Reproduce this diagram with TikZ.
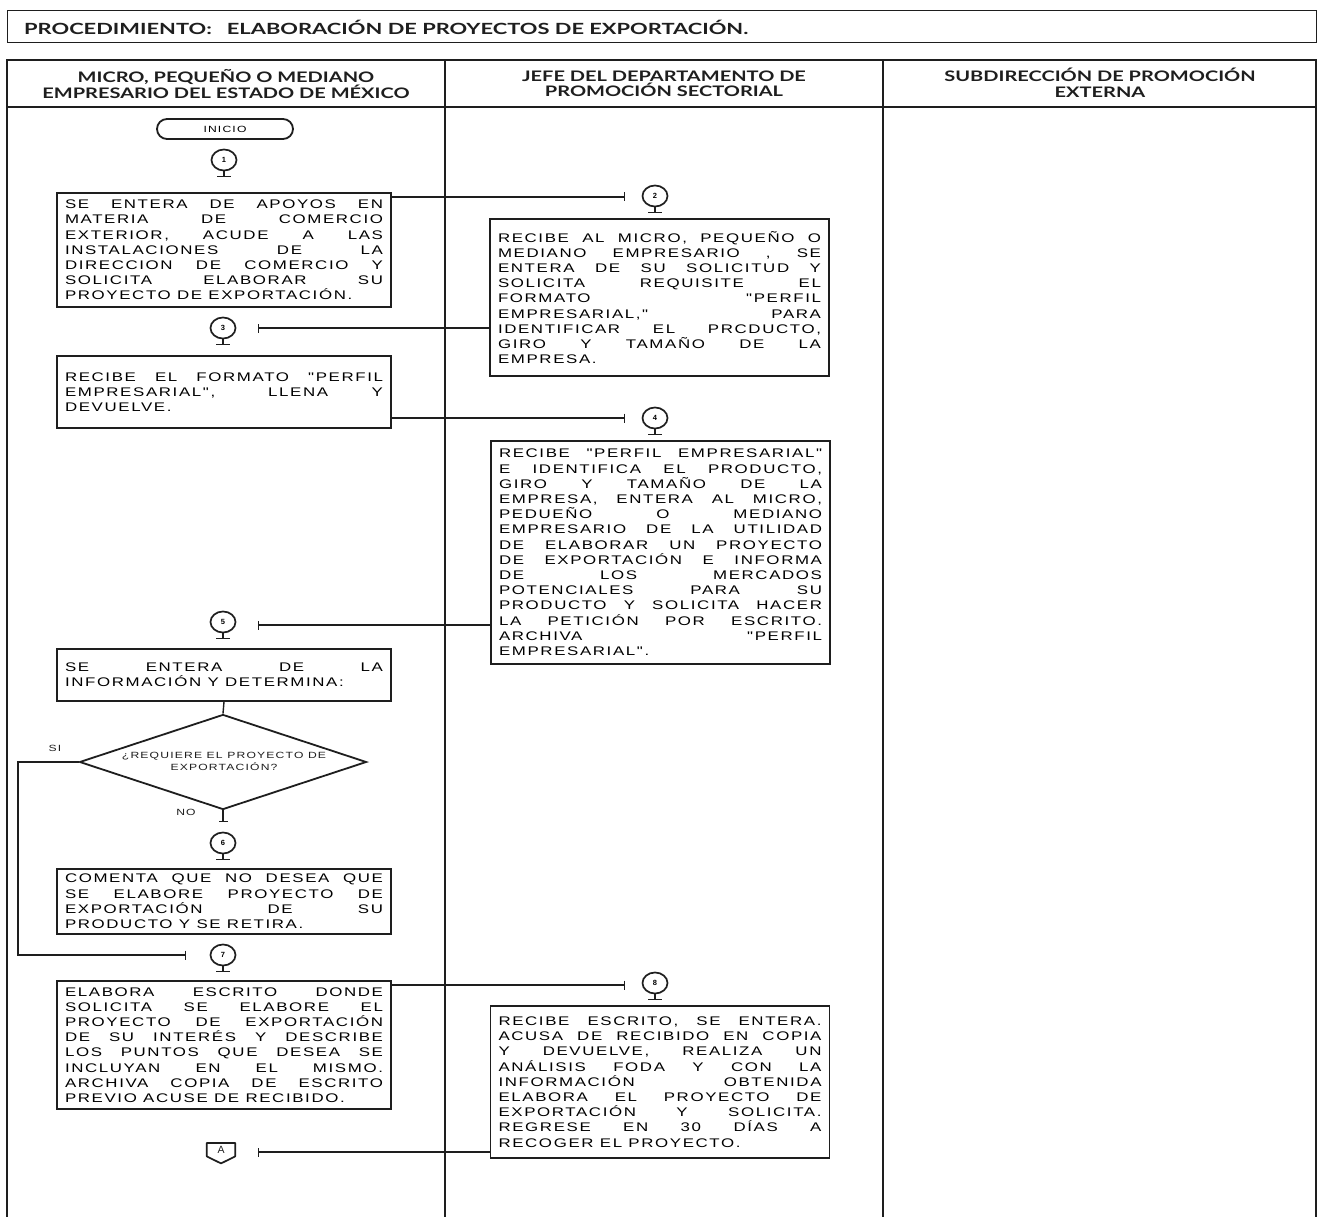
\documentclass[tikz,border=0pt]{standalone}
\usepackage{fontspec}
\setmainfont{Liberation Sans}
\newfontfamily\boxfont[FakeStretch=1.35,LetterSpace=13]{Liberation Sans}
\newfontfamily\headfont[FakeStretch=1.38]{Lato}
\newfontfamily\titlefont[FakeStretch=1.42]{Lato}
\usetikzlibrary{arrows.meta,shapes.geometric,shapes.misc}
\definecolor{ink}{HTML}{1E1E1E}
\setlength{\parindent}{0pt}
\hbadness=10000 \vbadness=10000 \hfuzz=20pt
\tikzset{
  lane/.style={draw=ink, line width=1.3pt},
  pbox/.style={draw=ink, line width=1.8pt, text width=#1, align=justify, inner xsep=8pt, inner ysep=2pt,
    font=\boxfont\fontsize{12.5}{15.2}\selectfont, anchor=north},
  conn/.style={draw=ink, ellipse, line width=1.7pt, minimum width=25pt, minimum height=21pt, inner sep=0pt,
    font=\fontsize{7.5}{8}\bfseries\selectfont},
  standl/.style={draw=ink, line width=1.6pt},
  flow/.style={draw=ink, line width=1.4pt, -{Bar[width=9pt,line width=1.4pt]}},
  plain/.style={draw=ink, line width=1.4pt},
  hdr/.style={align=center, font=\headfont\bfseries\fontsize{14.5}{15.5}\selectfont, text=ink},
  lbl/.style={font=\boxfont\fontsize{9}{10}\selectfont, text=ink},
}
\newcommand\cstand[1]{\draw[standl] (#1.south) -- ++(0,5) coordinate (#1s);
  \draw[standl] ([xshift=-7pt]#1s) -- ([xshift=7pt]#1s);}
\begin{document}
\begin{tikzpicture}[x=1pt,y=-1pt]
\useasboundingbox[fill=white] (0,0) rectangle (1318,1217);
% title
\node[draw=ink, line width=1.3pt, minimum width=1309pt, minimum height=32pt, anchor=north west, inner sep=0pt] (tbox) at (7,10) {};
\node[anchor=west, font=\titlefont\bfseries\fontsize{15.4}{16}\selectfont, text=ink, inner sep=0pt] (title) at (24,27)
  {PROCEDIMIENTO:\hspace{15pt}ELABORACIÓN DE PROYECTOS DE EXPORTACIÓN.};
% lanes
\draw[lane] (7,1230) -- (7,60) -- (1316,60) -- (1316,1230);
\draw[lane] (7,107) -- (1316,107);
\draw[lane] (445,60) -- (445,1230);
\draw[lane] (883,60) -- (883,1230);
\node[hdr] (h1) at (226,84) {MICRO, PEQUEÑO O MEDIANO\\EMPRESARIO DEL ESTADO DE MÉXICO};
\node[hdr] (h2) at (664,84) {JEFE DEL DEPARTAMENTO DE\\PROMOCIÓN SECTORIAL};
\node[hdr] (h3) at (1100,83) {SUBDIRECCIÓN DE PROMOCIÓN\\EXTERNA};
% start
\node[draw=ink, rounded rectangle, line width=1.8pt, minimum width=136pt, minimum height=20pt, inner sep=0pt,
  font=\boxfont\fontsize{9}{9}\selectfont] (ini) at (225,129) {INICIO};
% connectors
\node[conn] (c1) at (224,160) {1}; \cstand{c1}
\node[conn] (c2) at (655,196) {2}; \cstand{c2}
\node[conn] (c3) at (223,328) {3}; \cstand{c3}
\node[conn] (c4) at (655,418) {4}; \cstand{c4}
\node[conn] (c5) at (223,622) {5}; \cstand{c5}
\node[conn] (c6) at (223,843) {6}; \cstand{c6}
\node[conn] (c7) at (223,955) {7}; \cstand{c7}
\node[conn] (c8) at (655,983) {8}; \cstand{c8}
% boxes
\node[pbox=318pt, minimum height=114pt] (b1) at (224,192) {SE ENTERA DE APOYOS EN\linebreak
MATERIA DE COMERCIO\linebreak
EXTERIOR, ACUDE A LAS\linebreak
INSTALACIONES DE LA\linebreak
DIRECCION DE COMERCIO Y\linebreak
SOLICITA ELABORAR SU\linebreak
PROYECTO DE EXPORTACIÓN.};
\node[pbox=323pt, minimum height=157pt] (b2) at (659.5,218) {RECIBE AL MICRO, PEQUEÑO O\linebreak
MEDIANO EMPRESARIO , SE\linebreak
ENTERA DE SU SOLICITUD Y\linebreak
SOLICITA REQUISITE EL\linebreak
FORMATO "PERFIL\linebreak
EMPRESARIAL," PARA\linebreak
IDENTIFICAR EL PRCDUCTO,\linebreak
GIRO Y TAMAÑO DE LA\linebreak
EMPRESA.};
\node[pbox=318pt, minimum height=72pt] (b3) at (224,355) {RECIBE EL FORMATO "PERFIL\linebreak
EMPRESARIAL", LLENA Y\linebreak
DEVUELVE.};
\node[pbox=323pt, minimum height=223pt] (b4) at (660.5,440) {RECIBE "PERFIL EMPRESARIAL"\linebreak
E IDENTIFICA EL PRODUCTO,\linebreak
GIRO Y TAMAÑO DE LA\linebreak
EMPRESA, ENTERA AL MICRO,\linebreak
PEDUEÑO O MEDIANO\linebreak
EMPRESARIO DE LA UTILIDAD\linebreak
DE ELABORAR UN PROYECTO\linebreak
DE EXPORTACIÓN E INFORMA\linebreak
DE LOS MERCADOS\linebreak
POTENCIALES PARA SU\linebreak
PRODUCTO Y SOLICITA HACER\linebreak
LA PETICIÓN POR ESCRITO.\linebreak
ARCHIVA "PERFIL\linebreak
EMPRESARIAL".};
\node[pbox=318pt, minimum height=52pt] (b5) at (224,648) {SE ENTERA DE LA\linebreak
INFORMACIÓN Y DETERMINA:};
\node[pbox=318pt, minimum height=65pt] (b6) at (224,868) {COMENTA QUE NO DESEA QUE\linebreak
SE ELABORE PROYECTO DE\linebreak
EXPORTACIÓN DE SU\linebreak
PRODUCTO Y SE RETIRA.};
\node[pbox=318pt, minimum height=128pt] (b7) at (224,980) {ELABORA ESCRITO DONDE\linebreak
SOLICITA SE ELABORE EL\linebreak
PROYECTO DE EXPORTACIÓN\linebreak
DE SU INTERÉS Y DESCRIBE\linebreak
LOS PUNTOS QUE DESEA SE\linebreak
INCLUYAN EN EL MISMO.\linebreak
ARCHIVA COPIA DE ESCRITO\linebreak
PREVIO ACUSE DE RECIBIDO.};
\node[pbox=323pt, minimum height=152pt] (b8) at (660,1005) {RECIBE ESCRITO, SE ENTERA.\linebreak
ACUSA DE RECIBIDO EN COPIA\linebreak
Y DEVUELVE, REALIZA UN\linebreak
ANÁLISIS FODA Y CON LA\linebreak
INFORMACIÓN OBTENIDA\linebreak
ELABORA EL PROYECTO DE\linebreak
EXPORTACIÓN Y SOLICITA.\linebreak
REGRESE EN 30 DÍAS A\linebreak
RECOGER EL PROYECTO.};
% decision
\node[draw=ink, diamond, line width=1.8pt, minimum width=287pt, minimum height=95pt, inner sep=0pt] (d) at (223,762) {};
\node[align=center, font=\boxfont\fontsize{9}{12}\selectfont, text=ink] (dt) at (224,761) {¿REQUIERE EL PROYECTO DE\\EXPORTACIÓN?};
\node[lbl] (si) at (55,748) {SI};
\node[lbl] (no) at (186,812) {NO};
% off page connector
\node[inner sep=0pt, minimum width=28pt, minimum height=13pt, anchor=north, font=\fontsize{10.5}{10}\selectfont, text=ink] (A) at (221,1143) {A};
\draw[ink, line width=1.7pt, line join=round] (A.north west) -- (A.north east) -- (A.south east) -- ([yshift=-7pt]A.south) -- (A.south west) -- cycle;
% flow lines
\coordinate (t2) at (625,197);
\coordinate (t3) at (258,328);
\coordinate (t4) at (625,418);
\coordinate (t5) at (258,625);
\coordinate (t8) at (625,985);
\coordinate (tA) at (258,1152);
\coordinate (tn) at (223,822);
\coordinate (t7) at (186,955);
\coordinate (lp) at (18,955);
\draw[flow] (b1.east |- t2) -- (t2);
\draw[flow] (b2.west |- t3) -- (t3);
\draw[flow] (b3.east |- t4) -- (t4);
\draw[flow] (b4.west |- t5) -- (t5);
\draw[flow] (b7.east |- t8) -- (t8);
\draw[flow] (b8.west |- tA) -- (tA);
\draw[plain] (b5.south) -- (d.north);
\draw[flow] (d.south) -- (tn);
\draw[flow] (d.west) -| (lp) -- (t7);
\end{tikzpicture}
\end{document}
